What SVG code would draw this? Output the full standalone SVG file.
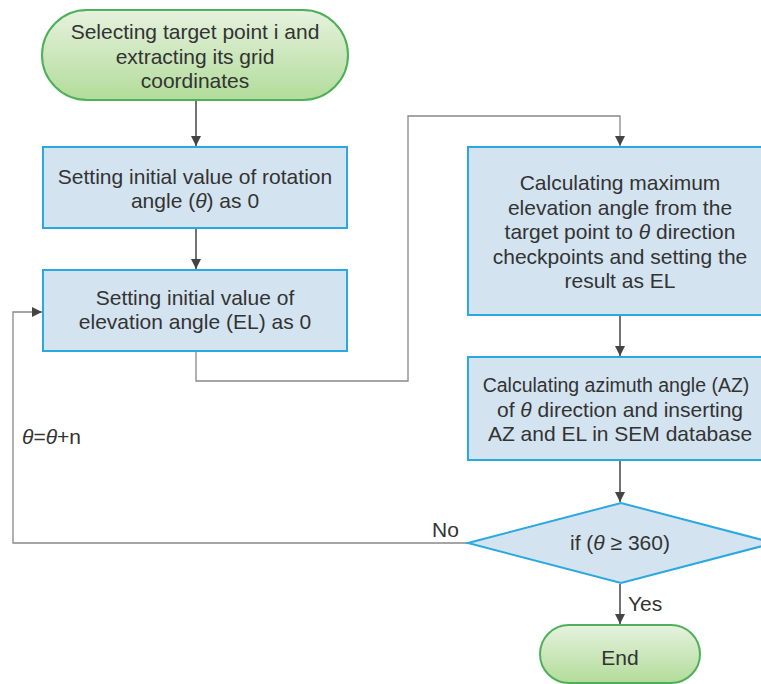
<svg xmlns="http://www.w3.org/2000/svg" width="761" height="684" viewBox="0 0 761 684">
<defs>
<linearGradient id="g" x1="0" y1="0" x2="0" y2="1">
<stop offset="0" stop-color="#e6f2de"/>
<stop offset="1" stop-color="#b2dc9a"/>
</linearGradient>
<marker id="a" viewBox="0 0 10 10" refX="10" refY="5" markerWidth="10" markerHeight="10" markerUnits="userSpaceOnUse" orient="auto">
<path d="M0,0 L10,5 L0,10 z" fill="#444"/>
</marker>
</defs>
<style>
.t{font-family:"Liberation Sans",Arial,sans-serif;font-size:21px;fill:#333;text-anchor:middle}
.l{font-family:"Liberation Sans",Arial,sans-serif;font-size:21px;fill:#333}
.term{fill:url(#g);stroke:#4fb05a;stroke-width:2}
.proc{fill:#d3e3f0;stroke:#2aa8e0;stroke-width:2}
.c{fill:none;stroke:#444;stroke-width:1.5}
.c2{fill:none;stroke:#888;stroke-width:1.3}
</style>
<rect width="761" height="684" fill="#fff"/>
<g id="connectors">
<path class="c" d="M196,101 V146" marker-end="url(#a)"/>
<path class="c" d="M196,229 V269" marker-end="url(#a)"/>
<path class="c2" d="M196,352 V381 H408 V116 H620 V146" marker-end="url(#a)"/>
<path class="c" d="M620,316 V356" marker-end="url(#a)"/>
<path class="c" d="M620,461 V502" marker-end="url(#a)"/>
<path class="c2" d="M468,543 H13 V312 H42" marker-end="url(#a)"/>
<path class="c" d="M620,584 V624" marker-end="url(#a)"/>
<text class="l" x="22" y="444"><tspan font-style="italic">θ</tspan>=<tspan font-style="italic">θ</tspan>+n</text>
<text class="l" x="432" y="537">No</text>
<text class="l" x="628" y="611">Yes</text>
</g>
<g id="start">
<rect class="term" x="42" y="10" width="306" height="90" rx="45"/>
<text class="t" x="195" y="39">Selecting target point i and</text>
<text class="t" x="195" y="64">extracting its grid</text>
<text class="t" x="195" y="88">coordinates</text>
</g>
<g id="init-theta">
<rect class="proc" x="43" y="147" width="304" height="81"/>
<text class="t" x="195" y="184">Setting initial value of rotation</text>
<text class="t" x="195" y="208">angle (<tspan font-style="italic">θ</tspan>) as 0</text>
</g>
<g id="init-el">
<rect class="proc" x="43" y="270" width="304" height="81"/>
<text class="t" x="195" y="305">Setting initial value of</text>
<text class="t" x="195" y="329">elevation angle (EL) as 0</text>
</g>
<g id="calc-el">
<rect class="proc" x="468" y="147" width="304" height="168"/>
<text class="t" x="620" y="190">Calculating maximum</text>
<text class="t" x="620" y="215">elevation angle from the</text>
<text class="t" x="620" y="239">target point to <tspan font-style="italic">θ</tspan> direction</text>
<text class="t" x="620" y="264">checkpoints and setting the</text>
<text class="t" x="620" y="288">result as EL</text>
</g>
<g id="calc-az">
<rect class="proc" x="468" y="357" width="304" height="103"/>
<text class="t" x="616" y="392" style="font-size:19.5px">Calculating azimuth angle (AZ)</text>
<text class="t" x="620" y="417">of <tspan font-style="italic">θ</tspan> direction and inserting</text>
<text class="t" x="620" y="441">AZ and EL in SEM database</text>
</g>
<g id="decision">
<polygon class="proc" points="468,543 621,503 774,543 621,583"/>
<text class="t" x="620" y="550">if (<tspan font-style="italic">θ</tspan> ≥ 360)</text>
</g>
<g id="end">
<rect class="term" x="540" y="625" width="160" height="58" rx="29"/>
<text class="t" x="620" y="665">End</text>
</g>
</svg>
